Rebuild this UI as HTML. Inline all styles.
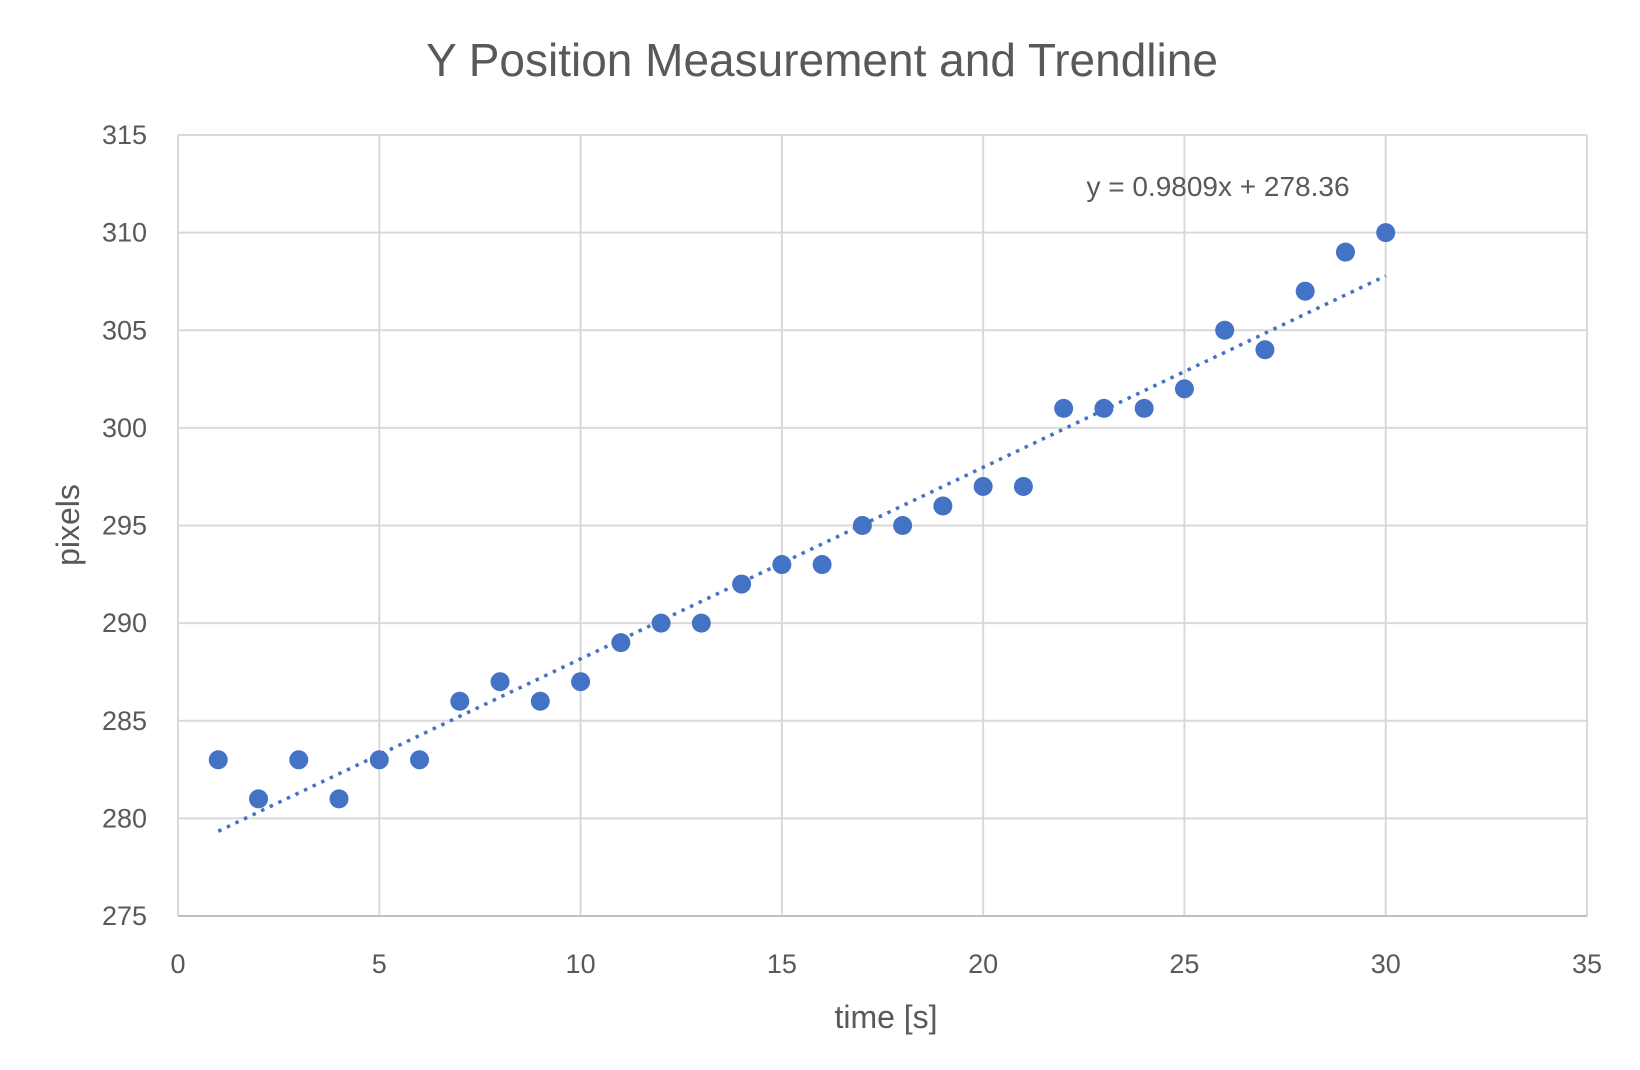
<!DOCTYPE html>
<html><head><meta charset="utf-8"><style>
body{margin:0;background:#fff;}
svg{display:block;font-family:"Liberation Sans",sans-serif;}
</style></head><body>
<svg id="chart" width="1640" height="1070">
<rect width="1640" height="1070" fill="#fff"/>
<text x="822" y="76" text-anchor="middle" font-size="46" fill="#595959">Y Position Measurement and Trendline</text>
<g id="grid"></g>
<g id="trend"></g>
<g id="pts"></g>
<text x="1218" y="196" text-anchor="middle" font-size="28" fill="#595959">y = 0.9809x + 278.36</text>
<text x="886" y="1028" text-anchor="middle" font-size="32" fill="#595959">time [s]</text>
<text transform="translate(79,525) rotate(-90)" text-anchor="middle" font-size="32" fill="#595959">pixels</text>
</svg>
<script>
const xs=[1,2,3,4,5,6,7,8,9,10,11,12,13,14,15,16,17,18,19,20,21,22,23,24,25,26,27,28,29,30];
const ys=[283,281,283,281,283,283,286,287,286,287,289,290,290,292,293,293,295,295,296,297,297,301,301,301,302,305,304,307,309,310];
const xTicks=[0,5,10,15,20,25,30,35];
const yTicks=[275,280,285,290,295,300,305,310,315];
const slope=0.9809, intercept=278.36;
const L=178,R=1587,T=135,B=916;
const sx=v=>L+(v-0)/(35-0)*(R-L);
const sy=v=>B-(v-275)/(315-275)*(B-T);
const NS="http://www.w3.org/2000/svg";
function mk(tag,attrs,parent){const e=document.createElementNS(NS,tag);for(const k in attrs)e.setAttribute(k,attrs[k]);parent.appendChild(e);return e;}
const grid=document.getElementById('grid');
xTicks.forEach(t=>{
 const l=mk('line',{x1:sx(t),x2:sx(t),y1:T,y2:B,stroke:'#d9d9d9','stroke-width':2},grid);
 
 
 const tx=mk('text',{x:sx(t),y:973,'text-anchor':'middle','font-size':27,fill:'#595959'},grid);
 tx.textContent=t;
 
 
});
yTicks.forEach(t=>{
 const l=mk('line',{x1:L,x2:R,y1:sy(t),y2:sy(t),stroke:'#d9d9d9','stroke-width':2},grid);
 
 
 const tx=mk('text',{x:147,y:sy(t)+9,'text-anchor':'end','font-size':27,fill:'#595959'},grid);
 tx.textContent=t;
 
 
});
const ax=mk('line',{x1:L,x2:R,y1:B,y2:B,stroke:'#bfbfbf','stroke-width':2},grid);


const x0=xs[0],x1=xs[xs.length-1];
const tl=mk('line',{x1:sx(x0),y1:sy(slope*x0+intercept),x2:sx(x1),y2:sy(slope*x1+intercept),stroke:'#4472C4','stroke-width':3.5,'stroke-dasharray':'3.5 6'},document.getElementById('trend'));


const pts=document.getElementById('pts');
xs.forEach((x,i)=>{
 const c=mk('circle',{cx:sx(x),cy:sy(ys[i]),r:9.5,fill:'#4472C4'},pts);
 
 
});
</script>
</body></html>
